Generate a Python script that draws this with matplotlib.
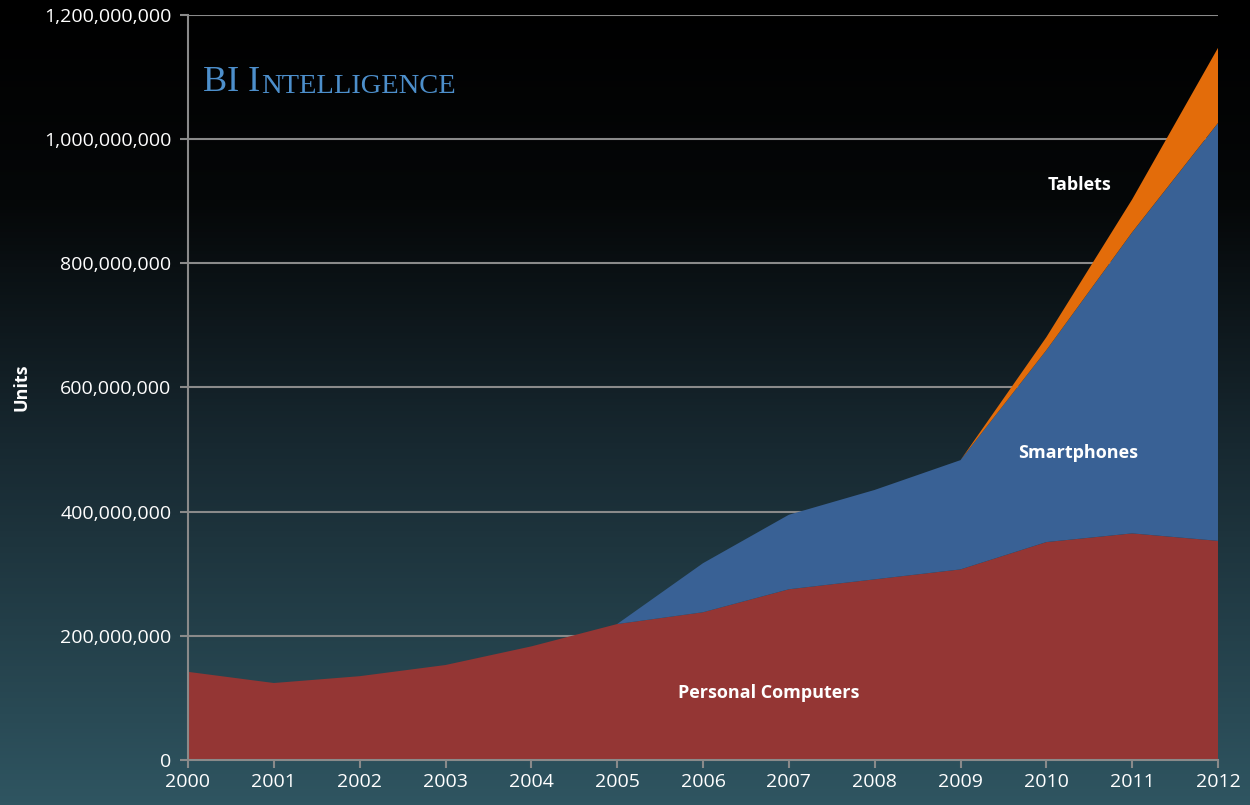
import numpy as np
import matplotlib
matplotlib.use("Agg")
import matplotlib.pyplot as plt
from matplotlib.colors import LinearSegmentedColormap
from matplotlib.ticker import FuncFormatter

# Units shipped
years = [2000, 2001, 2002, 2003, 2004, 2005, 2006, 2007, 2008, 2009, 2010, 2011, 2012]
pcs = [142e6, 124e6, 135e6, 153e6, 183e6, 219e6, 238e6, 275e6, 291e6, 307e6, 351e6, 365e6, 353e6]
smartphones = [0, 0, 0, 0, 0, 0, 79e6, 120e6, 144e6, 176e6, 309e6, 485e6, 673e6]
tablets = [0, 0, 0, 0, 0, 0, 0, 0, 0, 0, 21e6, 53e6, 121e6]
y_ticks = [0, 200e6, 400e6, 600e6, 800e6, 1000e6, 1200e6]

plt.rcParams['font.family'] = ['Open Sans', 'DejaVu Sans']

fig = plt.figure(figsize=(12.5, 8.05), dpi=100)

# gradient background: black on top, dark teal at the bottom
bg = fig.add_axes([0, 0, 1, 1], zorder=0)
cmap = LinearSegmentedColormap.from_list(
    "bg", [(0, "#000000"), (0.25, "#050708"), (0.55, "#172830"), (1, "#2f5561")])
grad = np.linspace(0, 1, 256).reshape(-1, 1)
bg.imshow(grad, aspect="auto", cmap=cmap, extent=[0, 1, 1, 0])
bg.axis("off")

ax = fig.add_axes([0.1504, 0.0559, 0.8240, 0.9255], zorder=1)
ax.set_facecolor("none")

ax.stackplot(years, pcs, smartphones, tablets,
             colors=["#943634", "#396195", "#e36c0a"], linewidth=0, zorder=2)

ax.set_xlim(2000, 2012)
ax.set_ylim(0, 1200e6)
ax.set_xticks(years)
ax.set_yticks(y_ticks)
ax.yaxis.set_major_formatter(FuncFormatter(lambda v, p: f"{int(v):,}"))
ax.grid(axis="y", color="#8a8a8a", linewidth=1.5, zorder=1)
ax.set_axisbelow(True)

for side in ["top", "right"]:
    ax.spines[side].set_visible(False)
for side in ["left", "bottom"]:
    ax.spines[side].set_color("#8a8a8a")
    ax.spines[side].set_linewidth(1.5)
    ax.spines[side].set_zorder(3)

ax.tick_params(axis="both", colors="#8a8a8a", labelcolor="white",
               labelsize=14, width=1.5, length=6)
ax.tick_params(axis="x", pad=3)
ax.tick_params(axis="y", pad=6)

ax.set_ylabel("Units", color="white", fontsize=13, fontweight="bold", labelpad=10)

# series labels
ax.text(2010.39, 926e6, "Tablets", color="white", fontsize=13,
        fontweight="bold", ha="center", va="center", zorder=4)
ax.text(2010.37, 494e6, "Smartphones", color="white", fontsize=13,
        fontweight="bold", ha="center", va="center", zorder=4)
ax.text(2006.76, 108e6, "Personal Computers", color="white", fontsize=13,
        fontweight="bold", ha="center", va="center", zorder=4)

# small-caps style logo
t1 = ax.text(0.0146, 0.909, "BI I", transform=ax.transAxes, color="#4d8fcb",
             fontsize=26, family="Liberation Serif", ha="left", va="center")
ax.annotate("NTELLIGENCE", xy=(1, 0), xycoords=t1, xytext=(1, 0),
            textcoords="offset points", color="#4d8fcb", fontsize=20.5,
            family="Liberation Serif", ha="left", va="bottom")

fig.savefig("out.png", dpi=100)
